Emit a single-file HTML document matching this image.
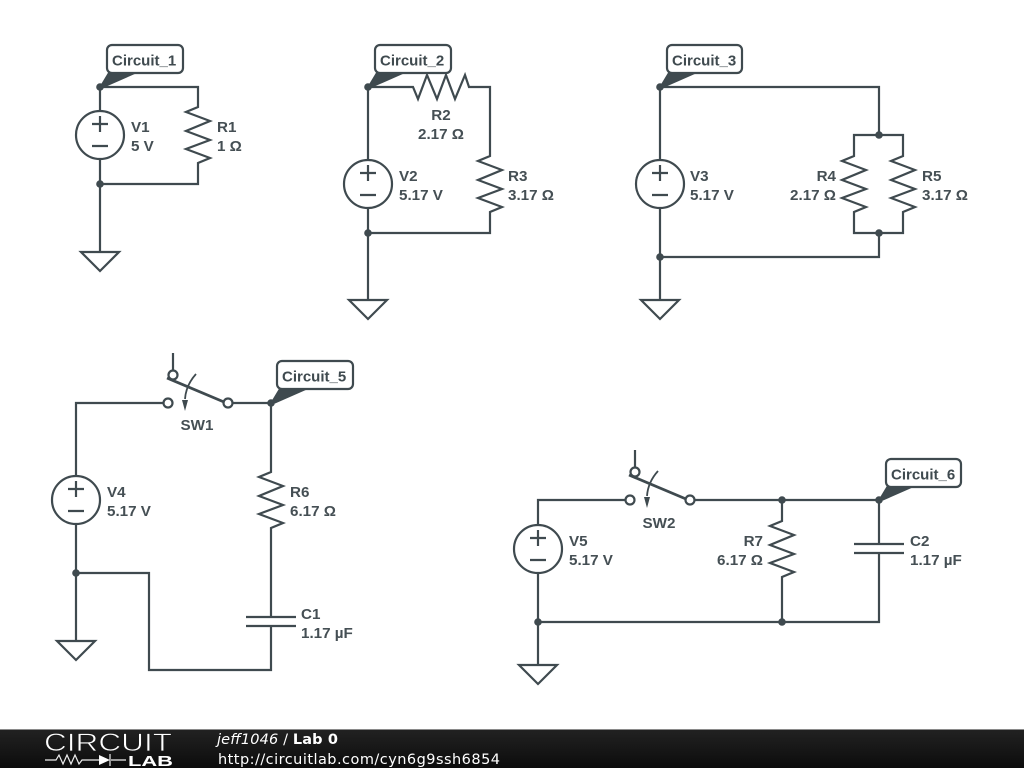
<!DOCTYPE html>
<html><head><meta charset="utf-8"><style>
html,body{margin:0;padding:0;background:#fff;width:1024px;height:768px;overflow:hidden}
svg{display:block}
.w{fill:none;stroke:#3f4a4f;stroke-width:2.2}
.wf{fill:#fff;stroke:#3f4a4f;stroke-width:2.2}
.t{font-family:"Liberation Sans",sans-serif;font-size:15.2px;font-weight:bold;fill:#454f54}
.c{font-family:"Liberation Sans",sans-serif;font-size:15px;font-weight:bold;fill:#3f4a4f}
.f{font-family:"DejaVu Sans",sans-serif;font-size:14.5px;fill:#fff}
.p{fill:#3f4a4f;stroke:#3f4a4f;stroke-width:1}
</style></head><body>
<svg width="1024" height="768" viewBox="0 0 1024 768" xmlns="http://www.w3.org/2000/svg">
<defs>
<linearGradient id="g" x1="0" y1="0" x2="0" y2="1"><stop offset="0" stop-color="#222"/><stop offset="1" stop-color="#0c0c0c"/></linearGradient>
<g id="src"><circle r="24" cx="0" cy="0" class="wf"/><path class="w" d="M-8-11H8M0-19V-3M-8 11H8"/></g>
<g id="res"><path class="w" d="M0-29V-28L-12-23L12-14L-12-4L12 5L-12 14L12 23L0 28V29"/></g>
<g id="gnd"><path class="wf" d="M-19 0H19L0 19Z"/></g>
<g id="cap"><path class="w" d="M-25-4.500H25M-25 4.500H25"/></g>
<g id="sw"><path class="w" d="M5-50V-32"/><path d="M-1-25L56-1" fill="none" stroke="#3f4a4f" stroke-width="2.800"/><circle cx="0" cy="0" r="4.500" class="wf"/><circle cx="60" cy="0" r="4.500" class="wf"/><circle cx="5" cy="-28" r="4.500" class="wf"/><path d="M28-29Q18-18 17-4" fill="none" stroke="#3f4a4f" stroke-width="1.800"/><path d="M14-3H20L17 8Z" fill="#3f4a4f"/></g>
<g id="n"><circle r="3.800" fill="#3f4a4f"/></g>
</defs>

<!-- Circuit 1 -->
<path class="w" d="M100 87H198V106M198 164V184H100M100 87V252"/>
<use href="#src" x="100" y="135"/><use href="#res" x="198" y="135"/><use href="#gnd" x="100" y="252"/>
<use href="#n" x="100" y="87"/><use href="#n" x="100" y="184"/>
<path class="p" d="M100 87L109 72H138L104 87Z"/>
<rect x="107" y="45" width="76" height="28" rx="5" class="wf"/>
<text class="c" x="112" y="65.500">Circuit_1</text>
<text class="t" x="131" y="132">V1</text><text class="t" x="131" y="151">5 V</text>
<text class="t" x="217" y="132">R1</text><text class="t" x="217" y="151">1 Ω</text>

<!-- Circuit 2 -->
<path class="w" d="M368 87H413L418 99L427 75L437 99L446 75L455 99L465 75L469 87H490V155M490 213V233H368M368 87V300"/>
<use href="#src" x="368" y="184"/><use href="#gnd" x="368" y="300"/>
<use href="#res" x="490" y="184"/>
<use href="#n" x="368" y="87"/><use href="#n" x="368" y="233"/>
<path class="p" d="M368 87L377 72H406L372 87Z"/>
<rect x="375" y="45" width="76" height="28" rx="5" class="wf"/>
<text class="c" x="380" y="65.500">Circuit_2</text>
<text class="t" x="441" y="120" text-anchor="middle">R2</text><text class="t" x="441" y="139" text-anchor="middle">2.17 Ω</text>
<text class="t" x="399" y="181">V2</text><text class="t" x="399" y="200">5.17 V</text>
<text class="t" x="508" y="181">R3</text><text class="t" x="508" y="200">3.17 Ω</text>

<!-- Circuit 3 -->
<path class="w" d="M660 87H879V135M854 155V135H903V155M854 213V233H903V213M879 233V257H660M660 87V300"/>
<use href="#src" x="660" y="184"/><use href="#res" x="854" y="184"/><use href="#res" x="903" y="184"/><use href="#gnd" x="660" y="300"/>
<use href="#n" x="660" y="87"/><use href="#n" x="879" y="135"/><use href="#n" x="879" y="233"/><use href="#n" x="660" y="257"/>
<path class="p" d="M660 87L669 72H698L664 87Z"/>
<rect x="667" y="45" width="75" height="28" rx="5" class="wf"/>
<text class="c" x="672" y="65.500">Circuit_3</text>
<text class="t" x="690" y="181">V3</text><text class="t" x="690" y="200">5.17 V</text>
<text class="t" x="836" y="181" text-anchor="end">R4</text><text class="t" x="836" y="200" text-anchor="end">2.17 Ω</text>
<text class="t" x="922" y="181">R5</text><text class="t" x="922" y="200">3.17 Ω</text>

<!-- Circuit 5 -->
<path class="w" d="M76 641V403H168M228 403H271V471M271 529V617M271 626V670H149V573H76"/>
<use href="#src" x="76" y="500"/><use href="#gnd" x="76" y="641"/>
<use href="#sw" x="168" y="403"/>
<use href="#res" x="271" y="500"/>
<use href="#cap" x="271" y="621.500"/>
<use href="#n" x="271" y="403"/><use href="#n" x="76" y="573"/>
<path class="p" d="M271 403L280 388H309L275 403Z"/>
<rect x="277" y="361" width="76" height="28" rx="5" class="wf"/>
<text class="c" x="282" y="381.500">Circuit_5</text>
<text class="t" x="197" y="430" text-anchor="middle">SW1</text>
<text class="t" x="107" y="497">V4</text><text class="t" x="107" y="516">5.17 V</text>
<text class="t" x="290" y="497">R6</text><text class="t" x="290" y="516">6.17 Ω</text>
<text class="t" x="301" y="619">C1</text><text class="t" x="301" y="638">1.17 µF</text>

<!-- Circuit 6 -->
<path class="w" d="M538 665V500H630M690 500H879V544M879 553V622H538M782 500V520M782 578V622"/>
<use href="#src" x="538" y="549"/><use href="#gnd" x="538" y="665"/>
<use href="#sw" x="630" y="500"/>
<use href="#res" x="782" y="549"/>
<use href="#cap" x="879" y="548.500"/>
<use href="#n" x="782" y="500"/><use href="#n" x="879" y="500"/><use href="#n" x="538" y="622"/><use href="#n" x="782" y="622"/>
<path class="p" d="M879 500L888 485H917L883 500Z"/>
<rect x="886" y="459" width="75" height="28" rx="5" class="wf"/>
<text class="c" x="891" y="479.500">Circuit_6</text>
<text class="t" x="659" y="528" text-anchor="middle">SW2</text>
<text class="t" x="569" y="546">V5</text><text class="t" x="569" y="565">5.17 V</text>
<text class="t" x="763" y="546" text-anchor="end">R7</text><text class="t" x="763" y="565" text-anchor="end">6.17 Ω</text>
<text class="t" x="910" y="546">C2</text><text class="t" x="910" y="565">1.17 µF</text>

<!-- Footer -->
<rect x="0" y="729" width="1024" height="39" fill="url(#g)"/>
<rect x="0" y="729" width="1024" height="1" fill="#8a8a8a"/>
<text x="44" y="751" font-family="Liberation Sans,sans-serif" font-size="25" fill="#fff" stroke="#1b1b1b" stroke-width="0.7" textLength="128" lengthAdjust="spacingAndGlyphs">CIRCUIT</text>
<path d="M45 760H56L59 755L63 764L67 755L71 764L75 755L79 764L82 760H99M111 760H126M110 754V766" fill="none" stroke="#eee" stroke-width="1.200"/>
<path d="M99 755V765L110 760Z" fill="#fff"/>
<text x="128" y="766" font-family="Liberation Sans,sans-serif" font-size="15" font-weight="bold" fill="#fff" textLength="45" lengthAdjust="spacingAndGlyphs">LAB</text>
<text class="f" x="217" y="744" textLength="121"><tspan font-style="italic">jeff1046</tspan> / <tspan font-weight="bold">Lab 0</tspan></text>
<text class="f" x="218" y="764" textLength="282">http://circuitlab.com/cyn6g9ssh6854</text>
</svg>
</body></html>
